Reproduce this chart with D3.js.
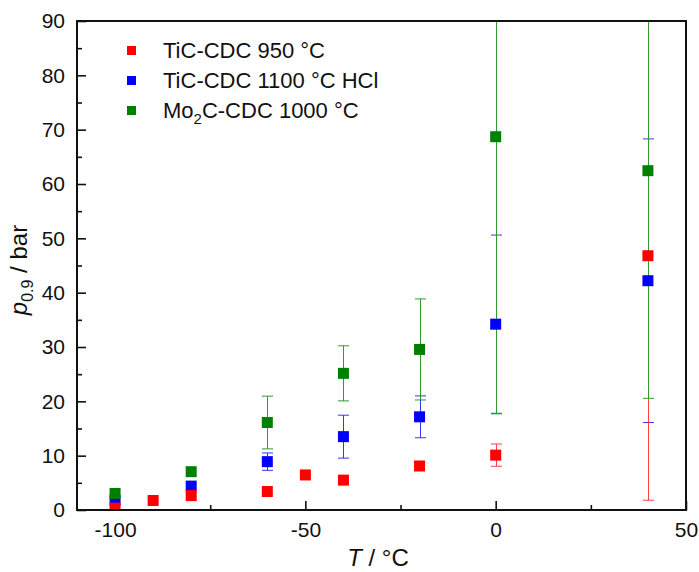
<!DOCTYPE html>
<html><head><meta charset="utf-8">
<script src="https://cdn.jsdelivr.net/npm/d3@7"></script>
<style>body{margin:0;background:#fff;} text{font-family:"Liberation Sans",Arial,sans-serif;}</style>
</head><body>
<svg id="c" width="699" height="572"></svg>
<script>
// Data
const redT   = [-100, -90, -80, -60, -50, -40, -20, 0, 40];
const redP   = [0.35, 1.75, 2.65, 3.4, 6.45, 5.5, 8.1, 10.1, 46.8];
const redErr = [0, 0, 0, 0, 0, 0, 0, 2.05, 45.0];

const blueT   = [-100, -80, -60, -40, -20, 0, 40];
const blueP   = [1.8, 4.4, 8.9, 13.5, 17.15, 34.2, 42.2];
const blueErr = [0, 0, 1.6, 3.95, 3.85, 16.4, 26.1];

const greenT   = [-100, -80, -60, -40, -20, 0, 40];
const greenP   = [3.05, 7.05, 16.1, 25.15, 29.55, 68.7, 62.45];
const greenErr = [0, 0, 4.85, 5.07, 9.3, 51.0, 41.9];

const xTicks = [-100, -50, 0, 50];
const xMinor = [-75, -25, 25];
const yTicks = [0, 10, 20, 30, 40, 50, 60, 70, 80, 90];
const yMinor = [5, 15, 25, 35, 45, 55, 65, 75, 85];

const seriesNames = ["TiC-CDC 950 °C", "TiC-CDC 1100 °C HCl", "Mo2C-CDC 1000 °C"];
const colors = ["#ff0000", "#0000ff", "#008000"];
const errColors = ["#ff4040", "#3535ff", "#2f9a2f"];

const svg = d3.select("#c");
const L = 77, R = 686, T = 21, B = 510;
const x = d3.scaleLinear().domain([-110, 50]).range([L, R]);
const y = d3.scaleLinear().domain([0, 90]).range([B, T]);

svg.append("defs").append("clipPath").attr("id", "clip")
  .append("rect").attr("x", L).attr("y", T).attr("width", R - L).attr("height", B - T);

const series = [
  {T: redT, P: redP, E: redErr, c: colors[0], ec: errColors[0]},
  {T: blueT, P: blueP, E: blueErr, c: colors[1], ec: errColors[1]},
  {T: greenT, P: greenP, E: greenErr, c: colors[2], ec: errColors[2]}
];
const drawOrder = [1, 0, 2];

// Axes
const fs = "21px";
const gx = svg.append("g").attr("transform", `translate(0,${B})`)
  .call(d3.axisBottom(x).tickValues(xTicks).tickSize(-9).tickPadding(12).tickFormat(d3.format("d")));
const gxm = svg.append("g").attr("transform", `translate(0,${B})`)
  .call(d3.axisBottom(x).tickValues(xMinor).tickSize(-5).tickFormat(""));
const gy = svg.append("g").attr("transform", `translate(${L},0)`)
  .call(d3.axisLeft(y).tickValues(yTicks).tickSize(-9).tickPadding(12).tickFormat(d3.format("d")));
const gym = svg.append("g").attr("transform", `translate(${L},0)`)
  .call(d3.axisLeft(y).tickValues(yMinor).tickSize(-5).tickFormat(""));
[gx, gxm, gy, gym].forEach(g => {
  g.select(".domain").remove();
  g.selectAll("line").attr("stroke", "#111").attr("stroke-width", 1.6);
  g.selectAll("text").attr("fill", "#111").style("font-size", fs)
    .style("font-family", '"Liberation Sans",Arial,sans-serif');
});
gx.selectAll("text").text(d => d < 0 ? "-" + Math.abs(d) : d);

// Error bars
const plot = svg.append("g").attr("clip-path", "url(#clip)");
drawOrder.forEach(i => {
  const s = series[i];
  s.T.forEach((t, j) => {
    const e = s.E[j];
    if (!e) return;
    const cx = Math.round(x(t)) + 0.5;
    const g = plot.append("g").attr("stroke", s.ec).attr("stroke-width", 1);
    g.append("line").attr("x1", cx).attr("x2", cx).attr("y1", y(s.P[j] - e)).attr("y2", y(s.P[j] + e));
    [s.P[j] - e, s.P[j] + e].forEach(v => {
      g.append("line").attr("x1", cx - 5.5).attr("x2", cx + 5.5).attr("y1", y(v)).attr("y2", y(v));
    });
  });
});
// Markers
const ms = 11;
drawOrder.forEach(i => {
  const s = series[i];
  plot.append("g").selectAll("rect").data(s.T.map((t, j) => [t, s.P[j]])).join("rect")
    .attr("x", d => x(d[0]) - ms / 2).attr("y", d => y(d[1]) - ms / 2)
    .attr("width", ms).attr("height", ms).attr("fill", s.c);
});

// Frame
svg.append("rect").attr("x", L).attr("y", T).attr("width", R - L).attr("height", B - T)
  .attr("fill", "none").attr("stroke", "#111").attr("stroke-width", 2);

// Legend
const lg = svg.append("g");
seriesNames.forEach((n, i) => {
  const by = 58 + i * 30;
  lg.append("rect").attr("x", 127).attr("y", by - 12).attr("width", 9).attr("height", 9).attr("fill", colors[i]);
  const t = lg.append("text").attr("x", 163).attr("y", by).attr("fill", "#111").style("font-size", "22px");
  if (n.startsWith("Mo2")) {
    t.append("tspan").text("Mo");
    t.append("tspan").text("2").attr("dy", 6).style("font-size", "15px");
    t.append("tspan").text(n.slice(3)).attr("dy", -6);
  } else t.text(n);
});

// Axis titles
const xl = svg.append("text").attr("x", 378).attr("y", 566).attr("text-anchor", "middle")
  .attr("fill", "#111").style("font-size", "24px");
xl.append("tspan").text("T").style("font-style", "italic");
xl.append("tspan").text(" / °C");

const yl = svg.append("text").attr("transform", "translate(27,270) rotate(-90)").attr("text-anchor", "middle")
  .attr("fill", "#111").style("font-size", "24px");
yl.append("tspan").text("p").style("font-style", "italic");
yl.append("tspan").text("0.9").attr("dy", 6).style("font-size", "16px");
yl.append("tspan").text(" / bar").attr("dy", -6);
</script>
</body></html>
